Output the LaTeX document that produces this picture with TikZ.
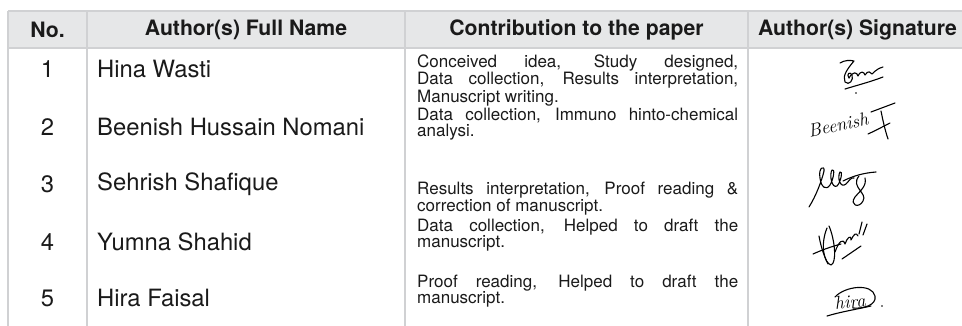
\documentclass[tikz,border=0pt]{standalone}
\usepackage{fontspec}
\setmainfont{TeX Gyre Heros}
\usepackage{xcolor}
\definecolor{hdrfill}{HTML}{E6E7E8}
\definecolor{rulegray}{HTML}{D0D1D3}
\definecolor{inkblack}{HTML}{1A1A1A}

\begin{document}
\begin{tikzpicture}[x=1pt, y=-1pt,
    hdrtxt/.style={font=\bfseries\fontsize{21.2}{24}\selectfont, inner sep=0pt, text=inkblack},
    numtxt/.style={font=\fontsize{23.8}{26}\selectfont, inner sep=0pt, text=inkblack},
    nametxt/.style={font=\fontsize{23.8}{26}\selectfont, inner sep=0pt, anchor=west, text=inkblack},
    contrib/.style={font=\fontsize{17}{16}\selectfont, text width=321pt, align=justify, inner sep=0pt, anchor=west, text=inkblack},
    rulel/.style={draw=rulegray, line width=1.5pt},
    sig/.style={draw=black, line width=1.1pt, line cap=round, line join=round},
    sigtxt/.style={font=\fontfamily{lmr}\itshape\fontsize{18.5}{18.5}\selectfont, inner sep=0pt}]
    \useasboundingbox (0,0) rectangle (962,326);

    % header band
    \fill[hdrfill] (8,11) rectangle (962,48);
    \draw[rulel] (8,11) -- (962,11);
    \draw[rulel] (8,48) -- (962,48);
    \draw[rulel] (8,11) -- (8,326);
    \draw[rulel] (87,11) -- (87,326);
    \draw[rulel] (405,11) -- (405,326);
    \draw[rulel] (748,11) -- (748,326);

    \node[hdrtxt] (hno) at (47.5,30) {No.};
    \node[hdrtxt] (hname) at (246,30) {Author(s) Full Name};
    \node[hdrtxt] (hcontrib) at (576.5,30) {Contribution to the paper};
    \node[hdrtxt] (hsig) at (857.5,30) {Author(s) Signature};

    % numbers and names
    \node[numtxt] (n1) at (47.5,69) {1};
    \node[numtxt] (n2) at (47.5,127) {2};
    \node[numtxt] (n3) at (47.5,184) {3};
    \node[numtxt] (n4) at (47.5,242) {4};
    \node[numtxt] (n5) at (47.5,298) {5};

    \node[nametxt] (a1) at (97,69) {Hina Wasti};
    \node[nametxt] (a2) at (97,127) {Beenish Hussain Nomani};
    \node[nametxt] (a3) at (97,184) {Sehrish Shafique};
    \node[nametxt] (a4) at (97,242) {Yumna Shahid};
    \node[nametxt] (a5) at (97,298) {Hira Faisal};

    % contributions
    \node[contrib] (c1) at (417,80.5) {Conceived idea, Study designed,\linebreak Data collection, Results interpretation,\linebreak Manuscript writing.};
    \node[contrib] (c2) at (417,124.5) {Data collection, Immuno hinto-chemical\linebreak analysi.};
    \node[contrib] (c3) at (417,198.5) {Results interpretation, Proof reading \&\linebreak correction of manuscript.};
    \node[contrib] (c4) at (417,235) {Data collection, Helped to draft the\linebreak manuscript.};
    \node[contrib] (c5) at (417,291) {Proof reading, Helped to draft the\linebreak manuscript.};

    % signature 1
    \draw[sig] (840,63) .. controls (845,60) and (850,60) .. (854,61) .. controls (848,68) and (842,76) .. (845,82) .. controls (849,86) and (854,80) .. (852,75) .. controls (850,71) and (846,74) .. (849,78);
    \draw[sig] (849,78) .. controls (853,71) and (857,72) .. (858,76) .. controls (861,70) and (864,72) .. (865,75) .. controls (868,70) and (871,72) .. (872,74) .. controls (876,70) and (879,68) .. (883,67);
    \draw[sig] (845,89) .. controls (858,85) and (870,82) .. (883,77);
    \fill (856,93) circle (0.9);

    % signature 2
    \node[sigtxt, rotate=12] (s2) at (838,125) {Beenish};
    \draw[sig] (871,112) .. controls (879,109) and (887,106) .. (895,103);
    \draw[sig] (868,134) .. controls (875,131) and (882,127) .. (890,123);
    \draw[sig] (881,111) .. controls (883,121) and (885,130) .. (888,139);

    % signature 3
    \draw[sig] (809,207) .. controls (816,196) and (822,180) .. (824,171) .. controls (825,165) and (818,167) .. (820,178) .. controls (821,187) and (826,191) .. (830,185) .. controls (834,178) and (835,168) .. (832,170) .. controls (829,175) and (832,189) .. (837,186) .. controls (841,182) and (843,170) .. (840,172) .. controls (837,177) and (840,189) .. (846,184) .. controls (849,181) and (851,177) .. (854,178);
    \draw[sig] (843,181) .. controls (853,176) and (863,173) .. (876,172);
    \draw[sig] (859,176) .. controls (850,187) and (868,193) .. (863,201) .. controls (859,209) and (849,205) .. (855,197) .. controls (860,191) and (867,186) .. (865,178);

    % signature 4
    \draw[sig] (827,228) .. controls (820,245) and (824,263) .. (831,265) .. controls (837,263) and (835,240) .. (829,226);
    \draw[sig] (819,236) .. controls (821,248) and (825,258) .. (828,264);
    \draw[sig] (813,254) .. controls (822,250) and (830,247) .. (841,244);
    \draw[sig] (835,252) .. controls (839,241) and (843,238) .. (845,244) .. controls (847,238) and (851,234) .. (851,240) .. controls (854,234) and (856,232) .. (858,236);
    \draw[sig] (859,234) -- (862,222);
    \draw[sig] (863,235) -- (867,224);
    \draw[sig] (842,259) -- (861,246);

    % signature 5
    \node[sigtxt, rotate=6] (s5) at (850,302) {hira};
    \draw[sig] (835,297) .. controls (845,286) and (872,283) .. (875,296) .. controls (877,305) and (863,309) .. (853,308);
    \draw[sig] (827,316) .. controls (840,312) and (858,309) .. (871,306);
    \fill (882,306) circle (0.9);
\end{tikzpicture}
\end{document}
